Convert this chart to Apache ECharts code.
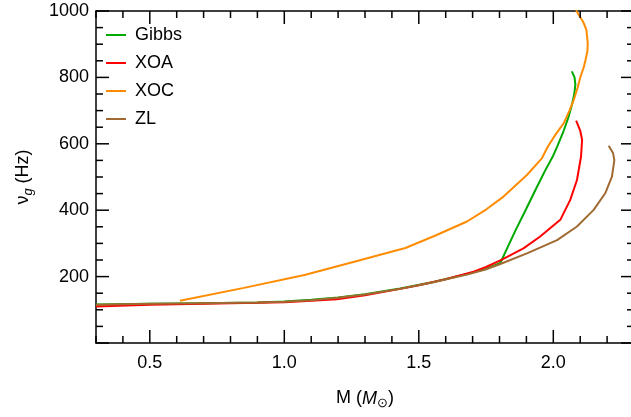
<!DOCTYPE html>
<html>
<head>
<meta charset="utf-8">
<script src="https://cdn.jsdelivr.net/npm/echarts@6/dist/echarts.min.js"></script>
<style>html,body{margin:0;padding:0;background:#fff}#c{width:631px;height:417px}</style>
</head>
<body>
<div id="c"></div>
<script>
const seriesNames = ['Gibbs', 'XOA', 'XOC', 'ZL'];
const colors = ['#00aa00', '#ff0000', '#ff8c00', '#a06a32'];

const gibbs = [[0.3,116],[0.5,118],[0.7,120],[0.9,122],[1.0,125],[1.1,130],[1.2,137],[1.3,147],[1.431,164],[1.55,183],[1.679,208],[1.75,223],[1.803,241],[1.83,288],[1.86,340],[1.9,405],[1.939,470],[1.97,520],[2.0,565],[2.014,591],[2.039,640],[2.057,682],[2.07,720],[2.078,750],[2.082,778],[2.079,800],[2.069,818]];
const xoa = [[0.3,110],[0.5,115],[0.7,118],[0.9,121],[1.0,123],[1.1,127],[1.195,132],[1.3,144],[1.431,163],[1.5,174],[1.6,192],[1.704,215],[1.75,229],[1.809,251],[1.889,285],[1.95,320],[2.026,371],[2.063,431],[2.088,491],[2.103,561],[2.107,612],[2.1,640],[2.085,670]];
const xoc = [[0.612,127],[0.85,166],[1.075,205],[1.26,245],[1.45,286],[1.56,323],[1.679,366],[1.75,402],[1.815,441],[1.902,506],[1.958,557],[1.98,592],[2.01,630],[2.039,662],[2.06,700],[2.076,732],[2.09,768],[2.101,802],[2.113,830],[2.12,853],[2.127,880],[2.128,903],[2.123,943],[2.115,960],[2.107,973],[2.095,988],[2.088,998],[2.08,1015]];
const zl = [[0.3,115],[0.5,118],[0.7,120],[0.9,122],[1.0,124],[1.1,129],[1.2,136],[1.3,146],[1.431,163],[1.55,182],[1.679,206],[1.75,222],[1.803,238],[1.902,270],[2.014,310],[2.088,351],[2.15,401],[2.193,451],[2.218,501],[2.227,551],[2.222,572],[2.206,594]];

// axis tick positions and labels
const xMajorTicks = [0.5, 1.0, 1.5, 2.0];
const xMinorTicks = [0.3, 0.4, 0.6, 0.7, 0.8, 0.9, 1.1, 1.2, 1.3, 1.4, 1.6, 1.7, 1.8, 1.9, 2.1, 2.2, 2.3];
const xMajorLabels = ['0.5', '1.0', '1.5', '2.0'];
const yMajorTicks = [0, 200, 400, 600, 800, 1000];
const yMinorTicks = [50, 100, 150, 250, 300, 350, 450, 500, 550, 650, 700, 750, 850, 900, 950];
const yTickLabels = ['200', '400', '600', '800', '1000'];

const font = 'Liberation Sans, Arial, Helvetica, sans-serif';
const allData = [gibbs, xoa, xoc, zl];
const XMIN = 0.3, XMAX = 2.3, YMIN = 0, YMAX = 1000;
const MAJOR_LEN = 13, MINOR_LEN = 7;
const noLabel = { show: false };
const noSplit = { show: false };
function lineStyleBlack() { return { color: '#000', width: 1.5 }; }

const xTickData = xMajorTicks.map(v => [v, YMIN, MAJOR_LEN]).concat(xMinorTicks.map(v => [v, YMIN, MINOR_LEN]));
const yTickData = yMajorTicks.map(v => [XMIN, v, MAJOR_LEN]).concat(yMinorTicks.map(v => [XMIN, v, MINOR_LEN]));

// inside tick marks on one side of the frame, positioned through the axes' scales
function tickSeries(side) {
  const isX = side === 'bottom' || side === 'top';
  return {
    type: 'custom', xAxisIndex: 0, yAxisIndex: 0, z: 4, clip: false,
    data: isX ? xTickData : yTickData,
    renderItem: function (params, api) {
      const len = api.value(2);
      let shape;
      if (side === 'bottom') {
        const p = api.coord([api.value(0), YMIN]);
        shape = { x1: p[0], y1: p[1], x2: p[0], y2: p[1] - len };
      } else if (side === 'top') {
        const p = api.coord([api.value(0), YMAX]);
        shape = { x1: p[0], y1: p[1], x2: p[0], y2: p[1] + len };
      } else if (side === 'left') {
        const p = api.coord([XMIN, api.value(1)]);
        shape = { x1: p[0], y1: p[1], x2: p[0] + len, y2: p[1] };
      } else {
        const p = api.coord([XMAX, api.value(1)]);
        shape = { x1: p[0], y1: p[1], x2: p[0] - len, y2: p[1] };
      }
      return { type: 'line', shape: shape, style: { stroke: '#000', lineWidth: 1.5 } };
    }
  };
}

const chart = echarts.init(document.getElementById('c'), null, { renderer: 'canvas' });
chart.setOption({
  animation: false,
  backgroundColor: '#fff',
  grid: { left: 96, right: -3, top: 11, bottom: 74, containLabel: false, outerBoundsMode: 'none' },
  legend: {
    orient: 'vertical', left: 106, top: 26, padding: 0, itemGap: 10,
    icon: 'rect', itemWidth: 20, itemHeight: 2,
    textStyle: { fontSize: 18, color: '#000', fontFamily: font, padding: [0, 0, 0, 4] },
    data: seriesNames
  },
  xAxis: [
    { type: 'value', position: 'bottom', min: XMIN, max: XMAX, interval: 0.1,
      axisLine: { show: true, onZero: false, lineStyle: lineStyleBlack() },
      axisTick: { show: false },
      axisLabel: { show: true, fontSize: 18, color: '#000', fontFamily: font, margin: 11,
        formatter: v => { const s = (Math.round(v * 10) / 10).toFixed(1); return xMajorLabels.indexOf(s) >= 0 ? s : ''; } },
      splitLine: noSplit,
      name: 'M ({i|M}{sub|⊙})', nameLocation: 'middle', nameGap: 44,
      nameTextStyle: { fontSize: 18, color: '#000', fontFamily: font, verticalAlign: 'top',
        rich: { i: { fontSize: 18, fontStyle: 'italic', fontFamily: font, color: '#000' },
                sub: { fontSize: 13, fontFamily: font, color: '#000', padding: [10, 0, 0, 0] } } } },
    { type: 'value', position: 'top', min: XMIN, max: XMAX,
      axisLine: { show: true, onZero: false, lineStyle: lineStyleBlack() }, axisTick: { show: false }, axisLabel: noLabel, splitLine: noSplit }
  ],
  yAxis: [
    { type: 'value', position: 'left', min: YMIN, max: YMAX, interval: 200,
      axisLine: { show: true, onZero: false, lineStyle: lineStyleBlack() }, axisTick: { show: false },
      axisLabel: { show: true, fontSize: 18, color: '#000', fontFamily: font, margin: 7,
        formatter: v => (yTickLabels.indexOf(String(v)) >= 0 ? String(v) : '') },
      splitLine: noSplit,
      name: '{i|ν}{sub|g} (Hz)', nameLocation: 'middle', nameGap: 61,
      nameTextStyle: { fontSize: 18, color: '#000', fontFamily: font,
        rich: { i: { fontSize: 18, fontFamily: font, color: '#000' },
                sub: { fontSize: 13, fontStyle: 'italic', fontFamily: font, color: '#000', padding: [10, 0, 0, 0] } } } },
    { type: 'value', position: 'right', min: YMIN, max: YMAX,
      axisLine: { show: true, onZero: false, lineStyle: lineStyleBlack() }, axisTick: { show: false }, axisLabel: noLabel, splitLine: noSplit }
  ],
  series: seriesNames.map((n, i) => ({
    name: n, type: 'line', xAxisIndex: 0, yAxisIndex: 0,
    data: allData[i], showSymbol: false, symbol: 'none', clip: true,
    lineStyle: { color: colors[i], width: 2 }, itemStyle: { color: colors[i] }
  })).concat([tickSeries('bottom'), tickSeries('top'), tickSeries('left'), tickSeries('right')])
});
</script>
</body>
</html>
